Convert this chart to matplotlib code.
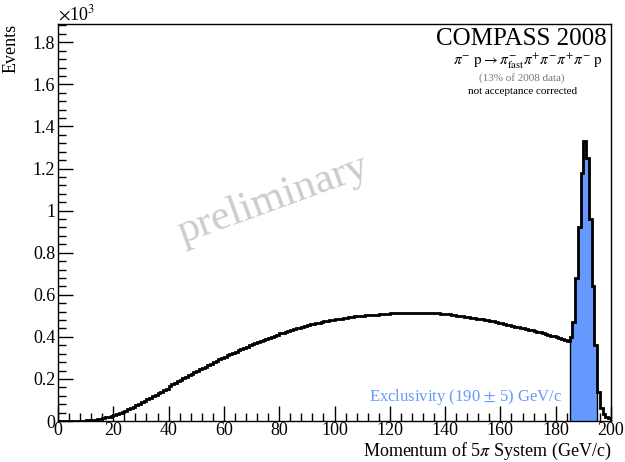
import numpy as np
import matplotlib
matplotlib.use("Agg")
import matplotlib.pyplot as plt
from matplotlib.ticker import MultipleLocator, FuncFormatter

# ---- data: events per 1 GeV/c bin, 0..200 GeV/c ----
bin_edges = list(range(0, 201))
events = [
    0, 0, 0, 0, 0, 0, 0, 0, 1, 2,
    3, 4, 5, 7, 9, 11, 14, 17, 21, 25,
    30, 34, 39, 44, 49, 55, 61, 68, 75, 82,
    90, 97, 104, 111, 118, 125, 132, 139, 146, 153,
    168, 175, 182, 189, 196, 203, 210, 217, 224, 231,
    238, 245, 252, 259, 266, 273, 280, 287, 294, 300,
    306, 312, 318, 324, 330, 336, 342, 348, 354, 360,
    366, 371, 376, 381, 386, 391, 396, 401, 406, 411,
    416, 420, 424, 428, 432, 436, 440, 444, 448, 452,
    456, 459, 462, 465, 468, 471, 474, 477, 479, 481,
    483, 485, 487, 489, 491, 493, 495, 497, 499, 500,
    501, 502, 503, 504, 505, 506, 507, 508, 509, 510,
    511, 512, 512, 513, 513, 514, 514, 515, 515, 515,
    515, 515, 515, 514, 514, 513, 512, 511, 510, 509,
    508, 507, 505, 503, 501, 499, 497, 495, 493, 491,
    489, 487, 485, 483, 481, 478, 476, 473, 470, 467,
    464, 461, 458, 455, 452, 449, 446, 443, 440, 437,
    434, 431, 428, 425, 422, 418, 414, 410, 406, 402,
    398, 394, 389, 384, 378, 400, 470, 680, 920, 1180,
    1330, 1250, 960, 640, 360, 140, 60, 35, 20, 12,
]
excl_low, excl_high = 185, 195

x_ticks_major = [0, 20, 40, 60, 80, 100, 120, 140, 160, 180, 200]
y_ticks_major = [0, 200, 400, 600, 800, 1000, 1200, 1400, 1600, 1800]

plt.rcParams['font.family'] = ['Liberation Serif', 'DejaVu Serif']
plt.rcParams['mathtext.fontset'] = 'stix'

fig = plt.figure(figsize=(6.25, 4.62), dpi=100)
ax = fig.add_axes([58/625, 41/462, (611-58)/625, (421-24)/462])

edges = np.array(bin_edges, dtype=float)
vals = np.array(events, dtype=float)

# exclusivity region fill
lo = bin_edges.index(excl_low)
hi = bin_edges.index(excl_high)
ax.stairs(vals[lo:hi], edges[lo:hi+1], fill=True, color='#6699ff', zorder=2)
ax.stairs(vals[lo:hi], edges[lo:hi+1], fill=False, color='black', lw=1.0,
          baseline=0, zorder=3)
# full histogram
ax.stairs(vals, edges, color='black', lw=2.0, zorder=4)

ax.set_xlim(0, 200)
ax.set_ylim(0, 1887)
ax.set_xticks(x_ticks_major)
ax.set_yticks(y_ticks_major)
ax.xaxis.set_minor_locator(MultipleLocator(4))
ax.yaxis.set_minor_locator(MultipleLocator(40))
ax.yaxis.set_major_formatter(FuncFormatter(lambda v, p: f"{v/1000:g}"))
ax.tick_params(which='both', direction='in', top=False, right=False,
               labelsize=13, width=1.0)
ax.tick_params(which='major', length=11)
ax.tick_params(which='minor', length=6)
ax.tick_params(axis='x', pad=1)
ax.tick_params(axis='y', pad=2)
for s in ax.spines.values():
    s.set_linewidth(1.0)

ax.set_xlabel(r"Momentum of 5$\pi$ System (GeV/c)", fontsize=13, ha='right')
ax.xaxis.set_label_coords(1.0, -0.05)
ax.set_ylabel("Events", fontsize=13, ha='right')
ax.yaxis.set_label_coords(-0.07, 1.0)

fig.text(58/625, 1 - 14/462, r"$\times$10$^{3}$", fontsize=13, ha='left', va='center')

fig.text(607/625, 1 - 39/462, "COMPASS 2008", fontsize=18, ha='right', va='center')
fig.text(603/625, 1 - 61/462,
         r"$\pi^{-}\ \mathrm{p} \rightarrow \pi^{-}_{\mathrm{fast}}\pi^{+}\pi^{-}\pi^{+}\pi^{-}\ \mathrm{p}$",
         fontsize=11, ha='right', va='center')
fig.text(522/625, 1 - 78/462, "(13% of 2008 data)", fontsize=8, color='#777777',
         ha='center', va='center')
fig.text(523/625, 1 - 92/462, "not acceptance corrected", fontsize=8, color='black',
         ha='center', va='center')

fig.text(273/625, 1 - 200/462, "preliminary", fontsize=31, color='#cccccc',
         rotation=20, ha='center', va='center')

fig.text(562/625, 1 - 397/462, r"Exclusivity (190$\,\pm\,$5) GeV/c", fontsize=12,
         color='#6699ff', ha='right', va='center')

fig.savefig("out.png", dpi=100)
